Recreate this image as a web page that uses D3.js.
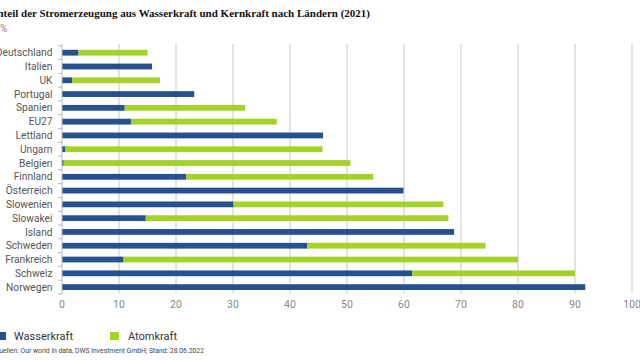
<!DOCTYPE html>
<html>
<head>
<meta charset="utf-8">
<script src="https://cdn.jsdelivr.net/npm/d3@7"></script>
<style>
  html, body { margin: 0; padding: 0; background: #fff; }
  svg { display: block; }
</style>
</head>
<body>
<svg id="chart" width="640" height="360"></svg>
<script>
const countries = ["Deutschland","Italien","UK","Portugal","Spanien","EU27","Lettland","Ungarn","Belgien","Finnland","Österreich","Slowenien","Slowakei","Island","Schweden","Frankreich","Schweiz","Norwegen"];
const wasserkraft = [2.9, 15.8, 1.8, 23.2, 11.0, 12.1, 45.8, 0.6, 0.3, 21.8, 59.9, 30.1, 14.7, 68.8, 43.0, 10.8, 61.4, 91.8];
const atomkraft   = [12.1, 0, 15.4, 0, 21.1, 25.6, 0, 45.1, 50.3, 32.8, 0, 36.8, 53.1, 0, 31.3, 69.2, 28.6, 0];
const xTicks = [0,10,20,30,40,50,60,70,80,90,100];
const seriesNames = ["Wasserkraft","Atomkraft"];
const colors = ["#26508f","#a4d22a"];
const title = "Anteil der Stromerzeugung aus Wasserkraft und Kernkraft nach Ländern (2021)";
const unit = "%";
const source = "Quellen: Our world in data, DWS Investment GmbH; Stand: 28.06.2022";

const svg = d3.select("#chart");
const x = d3.scaleLinear().domain([0,100]).range([62,632]);
const y = d3.scaleBand().domain(countries).range([45.8,294]).paddingInner(0.58).paddingOuter(0.29);
const bandY = d3.scaleBand().domain(countries).range([45.8,294]);

// title
svg.append("text").attr("x",370).attr("y",17).attr("text-anchor","end")
  .attr("font-family","Liberation Serif, serif").attr("font-weight","bold").attr("font-size",11.0)
  .attr("fill","#111").text(title);
svg.append("text").attr("x",0).attr("y",32).attr("font-family","Roboto, sans-serif")
  .attr("font-size",10).attr("fill","#888").text(unit);

// gridlines
svg.append("g").selectAll("line").data(xTicks.filter(d=>d>0)).join("line")
  .attr("x1",d=>x(d)).attr("x2",d=>x(d)).attr("y1",44).attr("y2",293)
  .attr("stroke","#c6c6c6").attr("stroke-width",1);

// bars
const stack = d3.stack().keys([0,1]).value((d,k)=> k===0 ? wasserkraft[d] : atomkraft[d]);
const series = stack(countries.map((c,i)=>i));
svg.append("g").selectAll("g").data(series).join("g")
  .attr("fill",(s,i)=>colors[i])
  .selectAll("rect").data(s=>s).join("rect")
  .attr("x",d=>x(d[0])).attr("width",d=>Math.max(0,x(d[1])-x(d[0])))
  .attr("y",(d,i)=>y(countries[i])).attr("height",y.bandwidth());

// left axis line + band ticks
const bounds = countries.map(c=>bandY(c)).concat([294]);
svg.append("line").attr("x1",62).attr("x2",62).attr("y1",44).attr("y2",294)
  .attr("stroke","#bbb").attr("stroke-width",1);
svg.append("g").selectAll("line").data(bounds).join("line")
  .attr("x1",58).attr("x2",62).attr("y1",d=>d).attr("y2",d=>d)
  .attr("stroke","#bbb").attr("stroke-width",1);

// category labels
svg.append("g").selectAll("text").data(countries).join("text")
  .attr("x",52.5).attr("y",c=>bandY(c)+bandY.bandwidth()/2).attr("dy","0.35em")
  .attr("text-anchor","end").attr("font-family","Roboto, sans-serif").attr("font-size",10.2)
  .attr("fill","#555").text(c=>c);

// x axis labels
svg.append("g").selectAll("text").data(xTicks).join("text")
  .attr("x",d=>x(d)).attr("y",308).attr("text-anchor","middle")
  .attr("font-family","Roboto, sans-serif").attr("font-size",10.5).attr("fill","#888").text(d=>d);

// legend
const legX = [-3, 110];
const legTX = [14, 128];
seriesNames.forEach((n,i)=>{
  svg.append("rect").attr("x",legX[i]).attr("y",332).attr("width",9).attr("height",8).attr("fill",colors[i]);
  svg.append("text").attr("x",legTX[i]).attr("y",340).attr("font-family","Roboto, sans-serif")
    .attr("font-size",11).attr("fill","#333").text(n);
});

// source
svg.append("text").attr("x",204).attr("y",353).attr("text-anchor","end")
  .attr("font-family","Roboto, sans-serif").attr("font-size",6.8).attr("fill","#444").text(source);
</script>
</body>
</html>
